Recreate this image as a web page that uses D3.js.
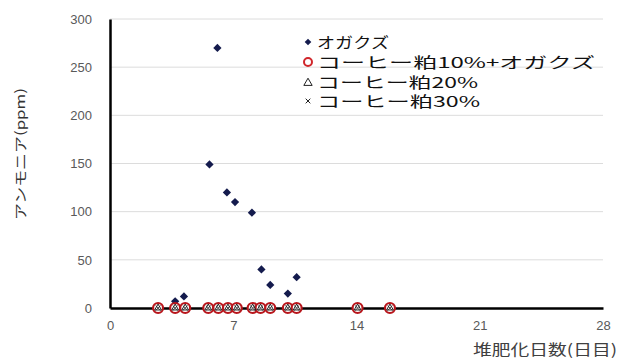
<!DOCTYPE html>
<html><head><meta charset="utf-8">
<script src="https://cdn.jsdelivr.net/npm/d3@7"></script>
<style>body{margin:0;background:#fff;}svg{display:block;font-family:"Noto Sans CJK JP","Liberation Sans",sans-serif;}</style>
</head><body>
<script>
const seriesNames = ["オガクズ","コーヒー粕10%+オガクズ","コーヒー粕20%","コーヒー粕30%"];
const ogaDays =   [6.1, 5.65, 6.64, 7.1, 8.06, 8.6, 9.1, 10.6, 10.1, 4.2, 3.7];
const ogaValues = [270, 149, 120, 110, 99, 40, 24, 32, 15, 12, 7];
const coffeeDays = [2.73, 3.7, 4.27, 5.58, 6.15, 6.7, 7.2, 8.1, 8.55, 9.1, 10.1, 10.6, 14.06, 15.9];
const coffee10Values = [0,0,0,0,0,0,0,0,0,0,0,0,0,0];
const coffee20Values = [0,0,0,0,0,0,0,0,0,0,0,0,0,0];
const coffee30Values = [0,0,0,0,0,0,0,0,0,0,0,0,0,0];
const xTicks = [0,7,14,21,28];
const yTicks = [0,50,100,150,200,250,300];

const W=627,H=360;
const m={l:110,r:24,t:19,b:52};
const svg=d3.select("body").append("svg").attr("width",W).attr("height",H);
const x=d3.scaleLinear().domain([0,28]).range([m.l,W-m.r]);
const y=d3.scaleLinear().domain([0,300]).range([H-m.b,m.t]);

// gridlines
svg.append("g").selectAll("line").data(yTicks.filter(d=>d>0)).join("line")
 .attr("x1",x(0)).attr("x2",x(28)).attr("y1",d=>y(d)).attr("y2",d=>y(d))
 .attr("stroke","#dcdcdc").attr("stroke-width",1);

// axes
const yAx=svg.append("g").attr("transform",`translate(${x(0)},0)`)
 .call(d3.axisLeft(y).tickValues(yTicks).tickSize(0).tickPadding(18));
yAx.select(".domain").attr("stroke","#000").attr("stroke-width",2.5);
yAx.selectAll("text").attr("fill","#595959").style("font-size","13px").style("font-family","Liberation Sans, sans-serif");
const xAx=svg.append("g").attr("transform",`translate(0,${y(0)})`)
 .call(d3.axisBottom(x).tickValues(xTicks).tickSize(0).tickPadding(13));
xAx.select(".domain").attr("stroke","#000").attr("stroke-width",2.5);
xAx.selectAll("text").attr("fill","#595959").style("font-size","13px").style("font-family","Liberation Sans, sans-serif");

// titles
svg.append("text").attr("transform",`translate(25,154) rotate(-90)`)
 .attr("text-anchor","middle").attr("fill","#333").style("font-size","13px")
 .attr("textLength",132).attr("lengthAdjust","spacingAndGlyphs").text("アンモニア(ppm)");
svg.append("text").attr("x",473).attr("y",355)
 .attr("fill","#404040").style("font-size","15px")
 .attr("textLength",144).attr("lengthAdjust","spacingAndGlyphs").text("堆肥化日数(日目)");

const diamond=d3.symbol().type(d3.symbolSquare).size(34);
const tri=d3.symbol().type(d3.symbolTriangle).size(20);
const cross=d3.symbol().type(d3.symbolX).size(18);

// series
svg.append("g").selectAll("path").data(ogaDays.map((d,i)=>[d,ogaValues[i]])).join("path")
 .attr("d",diamond).attr("transform",d=>`translate(${x(d[0])},${y(d[1])}) rotate(45)`).attr("fill","#141b4d");
svg.append("g").selectAll("circle").data(coffeeDays.map((d,i)=>[d,coffee10Values[i]])).join("circle")
 .attr("cx",d=>x(d[0])).attr("cy",d=>y(d[1])).attr("r",5)
 .attr("fill","#fff").attr("stroke","#b8161c").attr("stroke-width",2.2);
svg.append("g").selectAll("path").data(coffeeDays.map((d,i)=>[d,coffee20Values[i]])).join("path")
 .attr("d",tri).attr("transform",d=>`translate(${x(d[0])},${y(d[1])})`).attr("fill","none").attr("stroke","#222").attr("stroke-width",1);
svg.append("g").selectAll("path").data(coffeeDays.map((d,i)=>[d,coffee30Values[i]])).join("path")
 .attr("d",cross).attr("transform",d=>`translate(${x(d[0])},${y(d[1])})`).attr("fill","#222").attr("stroke","#222").attr("stroke-width",0.8);

// legend
const legendWidths=[72,278,161,163];
const lg=svg.append("g");
const rows=[42,62,82,101];
const lx=308;
lg.append("path").attr("d",d3.symbol().type(d3.symbolSquare).size(22)).attr("transform",`translate(${lx},${rows[0]}) rotate(45)`).attr("fill","#141b4d");
lg.append("circle").attr("cx",lx).attr("cy",rows[1]).attr("r",4).attr("fill","#fff").attr("stroke","#d0262b").attr("stroke-width",2);
lg.append("path").attr("d",d3.symbol().type(d3.symbolTriangle).size(30)).attr("transform",`translate(${lx},${rows[2]+1})`).attr("fill","none").attr("stroke","#222").attr("stroke-width",1);
lg.append("path").attr("d",d3.symbol().type(d3.symbolX).size(16)).attr("transform",`translate(${lx},${rows[3]})`).attr("fill","#222").attr("stroke","#222").attr("stroke-width",1);
lg.selectAll("text").data(seriesNames).join("text").attr("x",lx+9).attr("y",(d,i)=>rows[i]+6)
 .attr("fill","#111").style("font-size","15px")
 .attr("textLength",(d,i)=>legendWidths[i]).attr("lengthAdjust","spacingAndGlyphs").text(d=>d);
</script>
</body></html>
